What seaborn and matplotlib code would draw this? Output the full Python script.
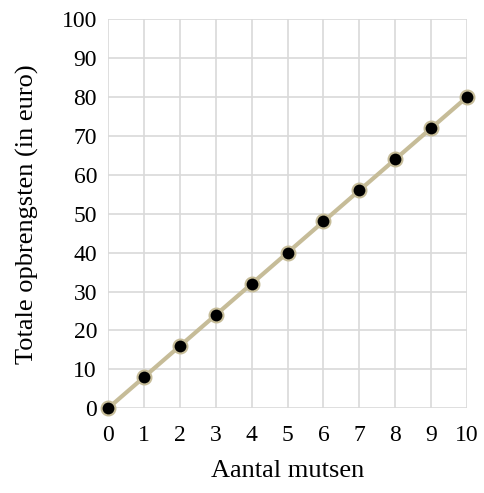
import numpy as np
import pandas as pd
import matplotlib
matplotlib.use("Agg")
import matplotlib.pyplot as plt
import seaborn as sns

aantal = [0, 1, 2, 3, 4, 5, 6, 7, 8, 9, 10]
opbrengst = [0, 8, 16, 24, 32, 40, 48, 56, 64, 72, 80]

df = pd.DataFrame({"Aantal mutsen": aantal, "Opbrengst": opbrengst})

sns.set_style("white")
plt.rcParams["font.family"] = ["Liberation Serif", "DejaVu Serif"]
plt.rcParams["text.color"] = "black"
plt.rcParams["axes.labelcolor"] = "black"
plt.rcParams["xtick.color"] = "black"
plt.rcParams["ytick.color"] = "black"

fig = plt.figure(figsize=(4.85, 4.93), dpi=100)
ax = fig.add_axes([0.223, 0.172, 0.740, 0.789])

sns.lineplot(data=df, x="Aantal mutsen", y="Opbrengst", ax=ax,
             color="#c6bc98", linewidth=3, marker="o", markersize=10,
             markerfacecolor="black", markeredgecolor="#c6bc98",
             markeredgewidth=1.5, zorder=3, clip_on=False)

ax.set_xlim(0, 10)
ax.set_ylim(0, 100)
ax.set_xticks(range(0, 11))
ax.set_yticks(range(0, 101, 10))
ax.grid(True, color="#d9d9d9", linewidth=1.2)
for s in ax.spines.values():
    s.set_visible(False)
ax.tick_params(axis="x", labelsize=17, length=0, pad=12)
ax.tick_params(axis="y", labelsize=17, length=0, pad=8)
ax.set_xlabel("Aantal mutsen", fontsize=19, labelpad=10)
ax.set_ylabel("Totale opbrengsten (in euro)", fontsize=19, labelpad=16)

fig.savefig("out.png", dpi=100)
